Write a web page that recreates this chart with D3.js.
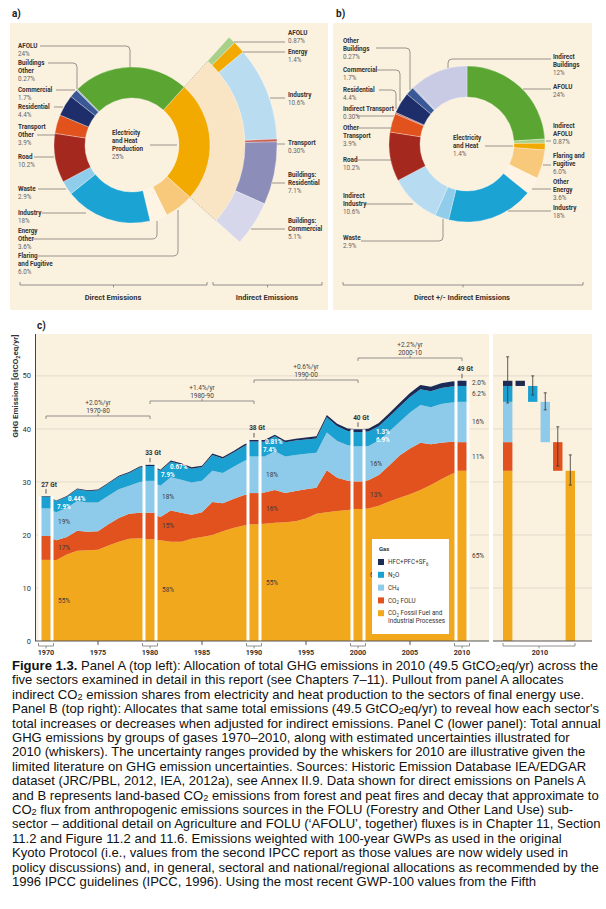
<!DOCTYPE html>
<html>
<head>
<meta charset="utf-8">
<script src="https://cdn.jsdelivr.net/npm/d3@7"></script>
<style>
  body { margin: 0; background: #fff; }
  svg { display: block; }
</style>
</head>
<body>
<div id="chart"></div>
<script>
// ---------- panel a: direct emissions by sector (% of 49.5 Gt) ----------
const sectorNamesA = ["Electricity and Heat Production", "Flaring and Fugitive", "Energy Other", "Industry", "Waste",
  "Road", "Transport Other", "Residential", "Commercial", "Buildings Other", "AFOLU"];
const sectorSharesA = [25, 6.0, 3.6, 18, 2.9, 10.2, 3.9, 4.4, 1.7, 0.27, 24];
const sectorLabelsA = ["25%", "6.0%", "3.6%", "18%", "2.9%", "10.2%", "3.9%", "4.4%", "1.7%", "0.27%", "24%"];

// pullout: electricity and heat allocated to end-use sectors
const indirectNames = ["AFOLU", "Energy", "Industry", "Transport", "Buildings: Residential", "Buildings: Commercial"];
const indirectShares = [0.87, 1.4, 10.6, 0.30, 7.1, 5.1];
const indirectLabels = ["0.87%", "1.4%", "10.6%", "0.30%", "7.1%", "5.1%"];

// ---------- panel b: direct +/- indirect ----------
const sectorNamesB = ["AFOLU", "Indirect AFOLU", "Electricity and Heat", "Flaring and Fugitive", "Other Energy", "Industry",
  "Waste", "Indirect Industry", "Road", "Other Transport", "Indirect Transport", "Residential", "Commercial",
  "Other Buildings", "Indirect Buildings"];
const sectorSharesB = [24, 0.87, 1.4, 6.0, 3.6, 18, 2.9, 10.6, 10.2, 3.9, 0.30, 4.4, 1.7, 0.27, 12];
const sectorLabelsB = ["24%", "0.87%", "1.4%", "6.0%", "3.6%", "18%", "2.9%", "10.6%", "10.2%", "3.9%", "0.30%",
  "4.4%", "1.7%", "0.27%", "12%"];

// ---------- panel c: GHG emissions by gas, GtCO2eq/yr ----------
const years = d3.range(1970, 2011);
const co2Fossil = [15.3, 15.3, 16.3, 17.0, 17.1, 17.2, 18.0, 18.7, 19.3, 19.4,
  19.2, 19.0, 18.7, 18.7, 19.3, 19.6, 20.0, 20.7, 21.3, 21.8,
  22.0, 22.1, 22.3, 22.4, 22.6, 23.1, 24.0, 24.3, 24.5, 24.7,
  24.9, 25.0, 25.5, 26.3, 27.0, 27.7, 28.5, 29.4, 30.5, 31.5, 32.1];
const co2Folu = [4.5, 3.7, 3.3, 3.8, 3.5, 3.5, 4.0, 4.5, 4.7, 4.8,
  5.0, 4.4, 5.9, 5.5, 4.5, 4.7, 6.2, 5.3, 5.5, 5.7,
  5.9, 5.9, 6.2, 5.5, 5.7, 5.5, 4.9, 7.9, 6.3, 5.5,
  5.2, 5.3, 5.8, 6.8, 8.0, 8.6, 8.9, 7.7, 6.9, 6.1, 5.4];
const ch4 = [5.2, 5.3, 5.5, 5.6, 5.5, 5.4, 5.4, 5.4, 5.3, 5.8,
  6.0, 5.9, 6.3, 6.2, 6.1, 5.9, 5.9, 5.7, 6.0, 6.4,
  6.9, 6.8, 7.3, 6.9, 6.8, 6.7, 6.6, 7.1, 6.9, 6.7,
  6.6, 6.5, 6.5, 6.4, 6.3, 6.8, 7.1, 7.0, 7.3, 7.4, 7.6];
const n2o = [2.2, 2.1, 2.1, 2.2, 2.2, 2.3, 2.3, 2.4, 2.4, 2.7,
  2.8, 2.8, 2.9, 2.9, 2.6, 2.6, 3.0, 2.7, 2.7, 2.8,
  2.8, 2.8, 2.8, 2.7, 2.7, 2.7, 2.7, 2.9, 2.8, 2.7,
  2.7, 2.7, 2.7, 2.8, 2.9, 2.9, 3.0, 3.0, 3.0, 3.0, 3.0];
const fGases = [0.12, 0.12, 0.13, 0.14, 0.14, 0.15, 0.16, 0.17, 0.19, 0.20,
  0.22, 0.22, 0.23, 0.24, 0.25, 0.26, 0.27, 0.28, 0.29, 0.30,
  0.31, 0.31, 0.32, 0.33, 0.35, 0.38, 0.41, 0.44, 0.46, 0.49,
  0.52, 0.55, 0.60, 0.65, 0.70, 0.76, 0.80, 0.85, 0.90, 0.93, 0.98];

const decadeYears = [1970, 1980, 1990, 2000, 2010];
const decadeTotals = ["27 Gt", "33 Gt", "38 Gt", "40 Gt", "49 Gt"];
const shareFossil = ["55%", "58%", "55%", "62%", "65%"];
const shareFolu = ["17%", "15%", "16%", "13%", "11%"];
const shareCh4 = ["19%", "18%", "18%", "16%", "16%"];
const shareN2o = ["7.9%", "7.9%", "7.4%", "6.9%", "6.2%"];
const shareFGases = ["0.44%", "0.67%", "0.81%", "1.3%", "2.0%"];

const growthRates = ["+2.0%/yr", "+1.4%/yr", "+0.6%/yr", "+2.2%/yr"];
const growthPeriods = ["1970-80", "1980-90", "1990-00", "2000-10"];

const yTicks = [0, 10, 20, 30, 40, 50];
const xLabelYears = [1970, 1975, 1980, 1985, 1990, 1995, 2000, 2005, 2010];

// 2010 uncertainty whiskers
const whiskerBars = ["Total", "HFC+PFC+SF6", "N2O", "CH4", "CO2 FOLU", "CO2 Fossil"];
const whiskerLow = [44.9, 48.4, 46.4, 43.6, 33.0, 29.4];
const whiskerHigh = [53.6, 48.9, 50.0, 46.8, 40.4, 35.1];

const gasKeys = ["ff", "folu", "ch4", "n2o", "hfc"];
const gasNames = ["CO₂ Fossil Fuel and|Industrial Processes", "CO₂ FOLU", "CH₄", "N₂O", "HFC+PFC+SF₆"];

const captionLines = [
  "Figure 1.3. Panel A (top left): Allocation of total GHG emissions in 2010 (49.5 GtCO₂eq/yr) across the",
  "five sectors examined in detail in this report (see Chapters 7–11). Pullout from panel A allocates",
  "indirect CO₂ emission shares from electricity and heat production to the sectors of final energy use.",
  "Panel B (top right): Allocates that same total emissions (49.5 GtCO₂eq/yr) to reveal how each sector's",
  "total increases or decreases when adjusted for indirect emissions. Panel C (lower panel): Total annual",
  "GHG emissions by groups of gases 1970–2010, along with estimated uncertainties illustrated for",
  "2010 (whiskers). The uncertainty ranges provided by the whiskers for 2010 are illustrative given the",
  "limited literature on GHG emission uncertainties. Sources: Historic Emission Database IEA/EDGAR",
  "dataset (JRC/PBL, 2012, IEA, 2012a), see Annex II.9.  Data shown for direct emissions on Panels A",
  "and B represents land-based CO₂ emissions from forest and peat fires and decay that approximate to",
  "CO₂ flux from anthropogenic emissions sources in the FOLU (Forestry and Other Land Use) sub-",
  "sector – additional detail on Agriculture and FOLU (‘AFOLU’, together) fluxes is in Chapter 11, Section",
  "11.2 and Figure 11.2 and 11.6.  Emissions weighted with 100-year GWPs as used in the original",
  "Kyoto Protocol (i.e., values from the second IPCC report as those values are now widely used in",
  "policy discussions) and, in general, sectoral and national/regional allocations as recommended by the",
  "1996 IPCC guidelines (IPCC, 1996). Using the most recent GWP-100 values from the Fifth"
];

// ---------- styles ----------
const beige = "#fbf1df";
const colorsA = ["#f2a900", "#f8c97a", "#fff4e3", "#1ba3d3", "#8fcdeb", "#a5281e", "#e2521c", "#1d2e6a", "#3b5896", "#a7b4d2", "#5ba632"];
const colorsPull = ["#a8d08a", "#f2a900", "#badcf1", "#c85e55", "#8d8db9", "#d7d7ec"];
const colorsB = ["#5ba632", "#a8d08a", "#f2a900", "#f8c97a", "#fff4e3", "#1ba3d3", "#8fcdeb", "#b7dbf1", "#a5281e",
  "#e2521c", "#c85e55", "#1d2e6a", "#3b5896", "#a7b4d2", "#c8cbe3"];
const gasColors = ["#f2a81d", "#e1521e", "#8ecae9", "#1ba1d1", "#1b2b58"];
const lblFont = "'Liberation Sans Narrow', 'Roboto', sans-serif";
const deg = d => d * Math.PI / 180;

let svg = d3.select("#chart").append("svg")
  .attr("width", 606)
  .attr("height", 909)
  .style("background", "#fff");

// text with subscript digits rendered as lowered tspans
function richText(t, str, fs, drop = 0.22) {
  const subs = { "₂": "2", "₄": "4", "₆": "6" };
  let parts = [], buf = "";
  for (const ch of str) {
    if (subs[ch]) {
      if (buf) parts.push({ t: buf });
      parts.push({ t: subs[ch], sub: true });
      buf = "";
    } else buf += ch;
  }
  if (buf) parts.push({ t: buf });
  let low = false;
  parts.forEach(p => {
    let ts = t.append("tspan").text(p.t);
    if (p.sub) { ts.attr("dy", fs * drop).attr("font-size", fs * 0.7); low = true; }
    else if (low) { ts.attr("dy", -fs * drop); low = false; }
  });
  return t;
}

// sector label: bold name lines, then the share
function sectorLabel(g, x, y, lines, pct) {
  let t = g.append("text").attr("font-family", lblFont).attr("font-size", 6.3).attr("fill", "#333");
  lines.forEach((ln, i) => {
    t.append("tspan").attr("x", x).attr("y", y + 2.2 + i * 7.9).attr("font-weight", 700).text(ln);
  });
  t.append("tspan").attr("x", x).attr("y", y + 2.2 + lines.length * 7.9).attr("fill", "#666").text(pct);
}

function bracket(g, x0, x1, yb, up) {
  let s = up ? -3 : 3;
  g.append("path")
    .attr("d", `M${x0},${yb + s}V${yb}H${x1}V${yb + s}M${(x0 + x1) / 2},${yb}V${yb - s * 0.8}`)
    .attr("fill", "none").attr("stroke", "#777").attr("stroke-width", 0.8);
}

// ================= panel a =================
let gA = svg.append("g");
svg.append("text").attr("x", 12).attr("y", 17).attr("font-family", "Roboto, sans-serif")
  .attr("font-size", 10).attr("font-weight", 700).attr("fill", "#222").text("a)");
gA.append("rect").attr("x", 10).attr("y", 23).attr("width", 318).attr("height", 287).attr("fill", beige);

let cxA = 132, cyA = 145;
let pieA = d3.pie().sort(null).value(d => d).startAngle(deg(42)).endAngle(deg(402));
let slicesA = pieA(sectorSharesA);
let arcA = d3.arc().innerRadius(47).outerRadius(78);
let ringA = gA.append("g").attr("transform", `translate(${cxA},${cyA})`);

// pale wedge leading out to the pullout
let elec = slicesA[0];
ringA.append("path")
  .attr("d", d3.arc().innerRadius(78).outerRadius(113)({ startAngle: elec.startAngle, endAngle: elec.endAngle }))
  .attr("fill", "#f9e5c4");
[elec.startAngle, elec.endAngle].forEach(a => {
  ringA.append("line")
    .attr("x1", 78 * Math.sin(a)).attr("y1", -78 * Math.cos(a))
    .attr("x2", 113 * Math.sin(a)).attr("y2", -113 * Math.cos(a))
    .attr("stroke", "#aaa").attr("stroke-width", 0.7).attr("stroke-dasharray", "1.5,1.5");
});

ringA.selectAll("path.sa")
  .data(slicesA)
  .enter()
  .append("path")
  .attr("class", "sa")
  .attr("d", arcA)
  .attr("fill", (d, i) => colorsA[i])
  .attr("stroke", "#fff")
  .attr("stroke-width", 0.3);

let pullPie = d3.pie().sort(null).value(d => d).startAngle(elec.startAngle).endAngle(elec.endAngle);
ringA.selectAll("path.pull")
  .data(pullPie(indirectShares))
  .enter()
  .append("path")
  .attr("class", "pull")
  .attr("d", d3.arc().innerRadius(113).outerRadius(145))
  .attr("fill", (d, i) => colorsPull[i])
  .attr("stroke", "#fff")
  .attr("stroke-width", 0.3);

// labels and leaders (positions)
let labelsA = [
  { i: 10, lines: ["AFOLU"], x: 18, y: 46, leader: "M40,46H126Q130,46 130,50V67" },
  { i: 9, lines: ["Buildings", "Other"], x: 18, y: 63, leader: "M48,63H73Q77,63 77,67V89" },
  { i: 8, lines: ["Commercial"], x: 18, y: 90, leader: "M56,90H75" },
  { i: 7, lines: ["Residential"], x: 18, y: 107, leader: "M54,107H63" },
  { i: 6, lines: ["Transport", "Other"], x: 18, y: 127, leader: "M37,135H55" },
  { i: 5, lines: ["Road"], x: 18, y: 157, leader: "M34,157H54" },
  { i: 4, lines: ["Waste"], x: 18, y: 189, leader: "M38,189H66" },
  { i: 3, lines: ["Industry"], x: 18, y: 213, leader: "M42,213H86" },
  { i: 2, lines: ["Energy", "Other"], x: 18, y: 231, leader: "M33,239H152Q157,239 157,234V221" },
  { i: 1, lines: ["Flaring", "and Fugitive"], x: 18, y: 256, leader: "M38,256H173Q178,256 178,251V210" },
  { i: 0, lines: ["Electricity", "and Heat", "Production"], x: 112, y: 133, leader: "M150,145H177" }
];
labelsA.forEach(l => {
  sectorLabel(gA, l.x, l.y, l.lines, sectorLabelsA[l.i]);
  gA.append("path").attr("d", l.leader).attr("fill", "none").attr("stroke", "#555").attr("stroke-width", 0.6);
});

let labelsPull = [
  { i: 0, lines: ["AFOLU"], y: 33, leader: "M234,42H285" },
  { i: 1, lines: ["Energy"], y: 52, leader: "M243,52H285" },
  { i: 2, lines: ["Industry"], y: 95, leader: "M270,98H285" },
  { i: 3, lines: ["Transport"], y: 143, leader: "M277,144H285" },
  { i: 4, lines: ["Buildings:", "Residential"], y: 175, leader: "M272,183H285" },
  { i: 5, lines: ["Buildings:", "Commercial"], y: 221, leader: "M251,229H285" }
];
labelsPull.forEach(l => {
  sectorLabel(gA, 288, l.y, l.lines, indirectLabels[l.i]);
  gA.append("path").attr("d", l.leader).attr("fill", "none").attr("stroke", "#555").attr("stroke-width", 0.6);
});

bracket(gA, 20, 207, 285, true);
bracket(gA, 213, 322, 285, true);
gA.append("text").attr("x", 113).attr("y", 300).attr("text-anchor", "middle").attr("font-family", lblFont)
  .attr("font-size", 7.5).attr("font-weight", 700).attr("fill", "#333").text("Direct Emissions");
gA.append("text").attr("x", 267).attr("y", 300).attr("text-anchor", "middle").attr("font-family", lblFont)
  .attr("font-size", 7.5).attr("font-weight", 700).attr("fill", "#333").text("Indirect Emissions");

// ================= panel b =================
let gB = svg.append("g");
svg.append("text").attr("x", 336).attr("y", 17).attr("font-family", "Roboto, sans-serif")
  .attr("font-size", 10).attr("font-weight", 700).attr("fill", "#222").text("b)");
gB.append("rect").attr("x", 333).attr("y", 23).attr("width", 259).attr("height", 287).attr("fill", beige);

let ringB = gB.append("g").attr("transform", "translate(467,144)");
ringB.selectAll("path")
  .data(d3.pie().sort(null).value(d => d)(sectorSharesB))
  .enter()
  .append("path")
  .attr("d", d3.arc().innerRadius(47).outerRadius(78))
  .attr("fill", (d, i) => colorsB[i])
  .attr("stroke", "#fff")
  .attr("stroke-width", 0.3);

let labelsB = [
  { i: 13, lines: ["Other", "Buildings"], x: 343, y: 41, leader: "M376,48H406Q410,48 410,52V90" },
  { i: 12, lines: ["Commercial"], x: 343, y: 70, leader: "M377,70H396Q400,70 400,74V101" },
  { i: 11, lines: ["Residential"], x: 343, y: 90, leader: "M379,90H392Q396,90 396,94V109" },
  { i: 10, lines: ["Indirect Transport"], x: 343, y: 109, leader: "M357,116H394" },
  { i: 9, lines: ["Other", "Transport"], x: 343, y: 128, leader: "M358,128H391" },
  { i: 8, lines: ["Road"], x: 343, y: 160, leader: "M357,160H391" },
  { i: 7, lines: ["Indirect", "Industry"], x: 343, y: 196, leader: "M366,204H413" },
  { i: 6, lines: ["Waste"], x: 343, y: 238, leader: "M361,241H439Q443,241 443,237V219" },
  { i: 14, lines: ["Indirect", "Buildings"], x: 553, y: 57, leader: "M551,59H452Q448,59 448,63V68" },
  { i: 0, lines: ["AFOLU"], x: 553, y: 87, leader: "M551,89H523" },
  { i: 1, lines: ["Indirect", "AFOLU"], x: 553, y: 126, leader: "M546,141H551" },
  { i: 3, lines: ["Flaring and", "Fugitive"], x: 553, y: 156, leader: "M543,165H551" },
  { i: 4, lines: ["Other", "Energy"], x: 553, y: 182, leader: "M532,189H551" },
  { i: 5, lines: ["Industry"], x: 553, y: 208, leader: "M508,211H551" },
  { i: 2, lines: ["Electricity", "and Heat"], x: 453, y: 138, leader: "M485,146H513" }
];
labelsB.forEach(l => {
  sectorLabel(gB, l.x, l.y, l.lines, sectorLabelsB[l.i]);
  gB.append("path").attr("d", l.leader).attr("fill", "none").attr("stroke", "#555").attr("stroke-width", 0.6);
});
bracket(gB, 343, 583, 285, true);
gB.append("text").attr("x", 462).attr("y", 300).attr("text-anchor", "middle").attr("font-family", lblFont)
  .attr("font-size", 7.5).attr("font-weight", 700).attr("fill", "#333").text("Direct +/- Indirect Emissions");

// ================= panel c =================
let gC = svg.append("g");
svg.append("text").attr("x", 37).attr("y", 329).attr("font-family", "Roboto, sans-serif")
  .attr("font-size", 10).attr("font-weight", 700).attr("fill", "#222").text("c)");

let x = d3.scaleLinear().domain([1970, 2010]).range([46, 462]);
let y = d3.scaleLinear().domain([0, 57.9]).range([641, 334]);
let xb = d3.scaleBand().domain(whiskerBars).range([503, 575]).paddingInner(0.25);

gC.append("rect").attr("x", 36).attr("y", 334).attr("width", 453).attr("height", 307).attr("fill", beige);
gC.append("rect").attr("x", 493).attr("y", 334).attr("width", 99).attr("height", 307).attr("fill", beige);

// grid
yTicks.slice(1).forEach(v => {
  [[36, 489], [493, 592]].forEach(r => {
    gC.append("line").attr("x1", r[0]).attr("x2", r[1]).attr("y1", y(v)).attr("y2", y(v))
      .attr("stroke", "#d8d1c3").attr("stroke-width", 0.7);
  });
});

let rows = years.map((yr, i) => ({
  year: yr, ff: co2Fossil[i], folu: co2Folu[i], ch4: ch4[i], n2o: n2o[i], hfc: fGases[i]
}));
let series = d3.stack().keys(gasKeys)(rows);

let area = d3.area()
  .x(d => x(d.data.year))
  .y0(d => y(d[0]))
  .y1(d => y(d[1]));

gC.selectAll("path.layer")
  .data(series)
  .enter()
  .append("path")
  .attr("class", "layer")
  .attr("d", area)
  .attr("fill", (d, i) => gasColors[i]);

// decade bars with white edges
decadeYears.forEach((yr, di) => {
  let yi = yr - 1970;
  let top = series[4][yi][1];
  gC.append("rect").attr("x", x(yr) - 7.5).attr("width", 15).attr("y", y(top)).attr("height", y(0) - y(top)).attr("fill", "#fff");
  series.forEach((s, k) => {
    gC.append("rect")
      .attr("x", x(yr) - 4.5).attr("width", 9)
      .attr("y", y(s[yi][1])).attr("height", y(s[yi][0]) - y(s[yi][1]))
      .attr("fill", gasColors[k]);
  });
  gC.append("line").attr("x1", x(yr)).attr("x2", x(yr)).attr("y1", y(top) - 7).attr("y2", y(top) - 2.5)
    .attr("stroke", "#333").attr("stroke-width", 0.8);
  gC.append("text").attr("x", x(yr) + 3).attr("y", y(top) - 9.5).attr("text-anchor", "middle")
    .attr("font-family", lblFont).attr("font-size", 6.5).attr("font-weight", 700).attr("fill", "#333")
    .text(decadeTotals[di]);

  // shares
  let lx = x(yr) + (yr === 2010 ? 10 : 12);
  let mid = k => y((series[k][yi][0] + series[k][yi][1]) / 2);
  let dark = (yy, txt) => gC.append("text").attr("x", lx).attr("y", yy + 2.2)
    .attr("font-family", lblFont).attr("font-size", 6.5).attr("fill", "#3a3a3a").text(txt);
  dark(mid(0), shareFossil[di]);
  dark(mid(1), shareFolu[di]);
  dark(mid(2), shareCh4[di]);
  if (yr === 2010) {
    dark(mid(3), shareN2o[di]);
    dark(mid(4) - 1, shareFGases[di]);
  } else {
    let hx = [22, 20, 11, 18][di];
    let nx = [11, 11, 9, 18][di];
    gC.append("text").attr("x", x(yr) + hx).attr("y", y(top) + 4.5).attr("font-family", lblFont)
      .attr("font-size", 6.3).attr("font-weight", 700).attr("fill", "#fff").text(shareFGases[di]);
    gC.append("text").attr("x", x(yr) + nx).attr("y", y(top) + 12.5).attr("font-family", lblFont)
      .attr("font-size", 6.3).attr("font-weight", 700).attr("fill", "#fff").text(shareN2o[di]);
  }
});

// growth rate brackets
let growthY = [416, 401, 380, 358];
growthRates.forEach((r, i) => {
  let x0 = x(decadeYears[i]), x1 = x(decadeYears[i + 1]);
  bracket(gC, x0, x1, growthY[i], false);
  let t = gC.append("text").attr("text-anchor", "middle").attr("font-family", lblFont)
    .attr("font-size", 6.5).attr("fill", "#444");
  t.append("tspan").attr("x", (x0 + x1) / 2).attr("y", growthY[i] - 11.5).text(r);
  t.append("tspan").attr("x", (x0 + x1) / 2).attr("y", growthY[i] - 3.5).text(growthPeriods[i]);
});

// 2010 uncertainty panel
let i2010 = 40;
series.forEach((s, k) => {
  gC.append("rect").attr("x", xb("Total")).attr("width", xb.bandwidth())
    .attr("y", y(s[i2010][1])).attr("height", y(s[i2010][0]) - y(s[i2010][1])).attr("fill", gasColors[k]);
  let name = whiskerBars[5 - k];
  gC.append("rect").attr("x", xb(name)).attr("width", xb.bandwidth())
    .attr("y", y(s[i2010][1])).attr("height", y(s[i2010][0]) - y(s[i2010][1])).attr("fill", gasColors[k]);
});
whiskerBars.forEach((b, i) => {
  let cx = xb(b) + xb.bandwidth() / 2;
  gC.append("path")
    .attr("d", `M${cx},${y(whiskerLow[i])}V${y(whiskerHigh[i])}M${cx - 1.5},${y(whiskerLow[i])}H${cx + 1.5}M${cx - 1.5},${y(whiskerHigh[i])}H${cx + 1.5}`)
    .attr("stroke", "#333").attr("stroke-width", 0.8).attr("fill", "none");
});

// axes
gC.append("line").attr("x1", 35.5).attr("x2", 35.5).attr("y1", 334).attr("y2", 641).attr("stroke", "#444").attr("stroke-width", 1);
gC.append("line").attr("x1", 35).attr("x2", 489).attr("y1", 641).attr("y2", 641).attr("stroke", "#555").attr("stroke-width", 1.2);
gC.append("line").attr("x1", 493).attr("x2", 592).attr("y1", 641).attr("y2", 641).attr("stroke", "#555").attr("stroke-width", 1.2);

gC.selectAll("text.ytick")
  .data(yTicks)
  .enter()
  .append("text")
  .attr("class", "ytick")
  .attr("x", 31).attr("y", d => y(d) + 2.6)
  .attr("text-anchor", "end").attr("font-family", lblFont).attr("font-size", 7.5).attr("fill", "#333")
  .text(d => d);

let yTitle = gC.append("text")
  .attr("transform", "translate(18,386) rotate(-90)")
  .attr("text-anchor", "middle").attr("font-family", lblFont).attr("font-size", 8)
  .attr("font-weight", 700).attr("fill", "#333");
richText(yTitle, "GHG Emissions [GtCO₂eq/yr]", 8);

xLabelYears.forEach(yr => {
  if (yr % 10 === 0) bracket(gC, x(yr) - 7.5, x(yr) + 7.5, 646, true);
  else gC.append("line").attr("x1", x(yr)).attr("x2", x(yr)).attr("y1", 641).attr("y2", 645).attr("stroke", "#555");
  gC.append("text").attr("x", x(yr)).attr("y", 655.3).attr("text-anchor", "middle").attr("font-family", lblFont)
    .attr("font-size", 7.2).attr("font-weight", 700).attr("fill", "#333").text(yr);
});
bracket(gC, xb("Total"), xb("CO2 Fossil") + xb.bandwidth(), 646, true);
gC.append("text").attr("x", 540).attr("y", 655.3).attr("text-anchor", "middle").attr("font-family", lblFont)
  .attr("font-size", 7.2).attr("font-weight", 700).attr("fill", "#333").text("2010");

// legend
let lg = gC.append("g").attr("font-family", lblFont).attr("fill", "#333");
lg.append("rect").attr("x", 372).attr("y", 539).attr("width", 77).attr("height", 95).attr("fill", "#fff");
lg.append("text").attr("x", 379).attr("y", 551).attr("font-size", 6).attr("font-weight", 700).text("Gas");
[4, 3, 2, 1, 0].forEach((k, j) => {
  let cy = 562 + j * 12.8;
  lg.append("rect").attr("x", 378).attr("y", cy - 3).attr("width", 6).attr("height", 6).attr("fill", gasColors[k]);
  gasNames[k].split("|").forEach((part, p) => {
    richText(lg.append("text").attr("x", 388).attr("y", cy + 2.2 + p * 8).attr("font-size", 6.3), part, 6.3);
  });
});

// ================= caption =================
let capSize = 12.8;
let cap = svg.append("g").attr("font-family", "'Liberation Sans', Arial, sans-serif").attr("fill", "#111");
let capTexts = captionLines.map((ln, i) => {
  let t = cap.append("text").attr("font-size", capSize);
  if (i === 0) {
    t.append("tspan").attr("font-weight", 700).text("Figure 1.3.");
    richText(t, ln.slice("Figure 1.3.".length), capSize, 0.1);
  } else richText(t, ln, capSize, 0.1);
  return t;
});
let k0 = 586 / capTexts[0].node().getComputedTextLength();
capTexts.forEach((t, i) => t.attr("transform", `translate(12,${670 + i * 14.4}) scale(${k0},1)`));
</script>
</body>
</html>
